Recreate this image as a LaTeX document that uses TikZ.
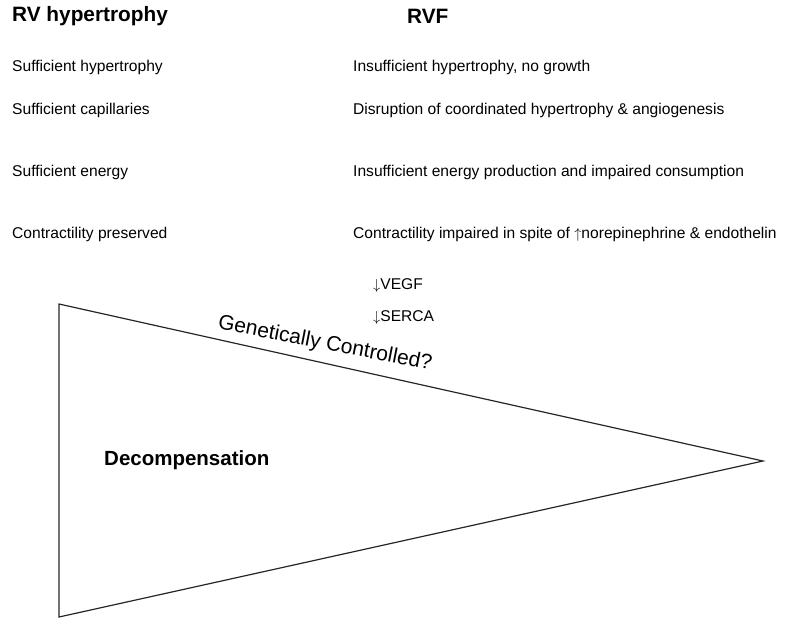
\documentclass[tikz,border=0pt]{standalone}
\usepackage{fontspec}
\setmainfont{Liberation Sans}
\begin{document}
\begin{tikzpicture}[x=1pt,y=-1pt,
  head/.style={font=\fontsize{20.8}{24}\selectfont\bfseries, anchor=west, inner sep=0pt},
  body/.style={font=\fontsize{15.6}{18}\selectfont, anchor=west, inner sep=0pt},
  tri/.style={draw=black!85, line width=1.2pt, line join=miter}]
\useasboundingbox (0,0) rectangle (799,619);
\node[head] (h1) at (12,16) {RV hypertrophy};
\node[head] (h2) at (407,16) {RVF};
\node[body] (l1) at (12,67) {Sufficient hypertrophy};
\node[body] (l2) at (12,110) {Sufficient capillaries};
\node[body] (l3) at (12,172) {Sufficient energy};
\node[body] (l4) at (12,234) {Contractility preserved};
\node[body] (r1) at (353,67) {Insufficient hypertrophy, no growth};
\node[body] (r2) at (353,110) {Disruption of coordinated hypertrophy \& angiogenesis};
\node[body] (r3) at (353,172) {Insufficient energy production and impaired consumption};
\node[body] (r4) at (353,234) {Contractility impaired in spite of $\uparrow$norepinephrine \& endothelin};
\node[body] (v1) at (373,285) {$\downarrow$VEGF};
\node[body] (v2) at (373,317) {$\downarrow$SERCA};
\coordinate (A) at (59,304);
\coordinate (B) at (763,461);
\coordinate (C) at (59,617);
\draw[tri] (A) -- (B) -- (C) -- cycle;
\node[font=\fontsize{21}{24}\selectfont, rotate=-11, inner sep=0pt] (g) at (325,344) {Genetically Controlled?};
\node[font=\fontsize{20.5}{24}\selectfont\bfseries, anchor=west, inner sep=0pt] (d) at (104,460) {Decompensation};
\end{tikzpicture}
\end{document}
